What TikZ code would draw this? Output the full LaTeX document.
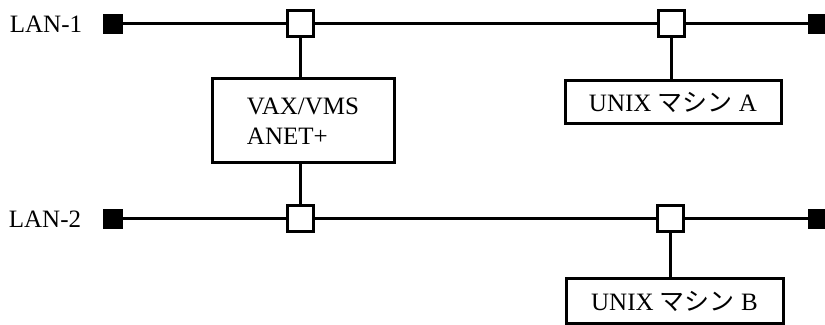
\documentclass[tikz,border=0pt]{standalone}
\usepackage{fontspec}
\setmainfont{Liberation Serif}
\newfontfamily\jpfont{Noto Sans CJK JP}
\usetikzlibrary{positioning}

\begin{document}
\begin{tikzpicture}[x=0.5pt,y=-0.5pt,
    lan/.style={line width=1.5pt},
    lanlabel/.style={font=\fontsize{12.5}{15}\selectfont,inner sep=0pt},
    term/.style={fill=black,minimum size=10pt,inner sep=0pt},
    tap/.style={draw,line width=1.5pt,fill=white,minimum size=13pt,inner sep=0pt},
    host/.style={draw,line width=1.5pt,fill=white,align=left,inner sep=0pt,font=\fontsize{12.5}{15}\selectfont}]
    \useasboundingbox (0,0) rectangle (825,325);
    \node[lanlabel] (l1) at (46,24) {LAN-1};
    \node[lanlabel] (l2) at (45,219) {LAN-2};
    \node[term] (e1a) at (113,24) {};
    \node[term] (e1b) at (818,24) {};
    \node[term] (e2a) at (113,219) {};
    \node[term] (e2b) at (818,219) {};
    \node[tap] (t1a) at (300,24) {};
    \node[tap] (t1b) at (671,24) {};
    \node[tap] (t2a) at (300,219) {};
    \node[tap] (t2b) at (670,219) {};
    \node[host,minimum width=91pt,minimum height=42pt] (vax) at (303,121) {VAX/VMS\\ANET+};
    \node[host,minimum width=108pt,minimum height=21.5pt] (ua) at (673,102.5) {UNIX {\jpfont マシン} A};
    \node[host,minimum width=108.5pt,minimum height=22.5pt] (ub) at (674.5,301.5) {UNIX {\jpfont マシン} B};
    \draw[lan] (e1a) -- (t1a) -- (t1b) -- (e1b);
    \draw[lan] (e2a) -- (t2a) -- (t2b) -- (e2b);
    \draw[lan] (t1a.south) -- (t1a |- vax.north);
    \draw[lan] (t2a |- vax.south) -- (t2a.north);
    \draw[lan] (t1b.south) -- (t1b |- ua.north);
    \draw[lan] (t2b.south) -- (t2b |- ub.north);
\end{tikzpicture}
\end{document}
